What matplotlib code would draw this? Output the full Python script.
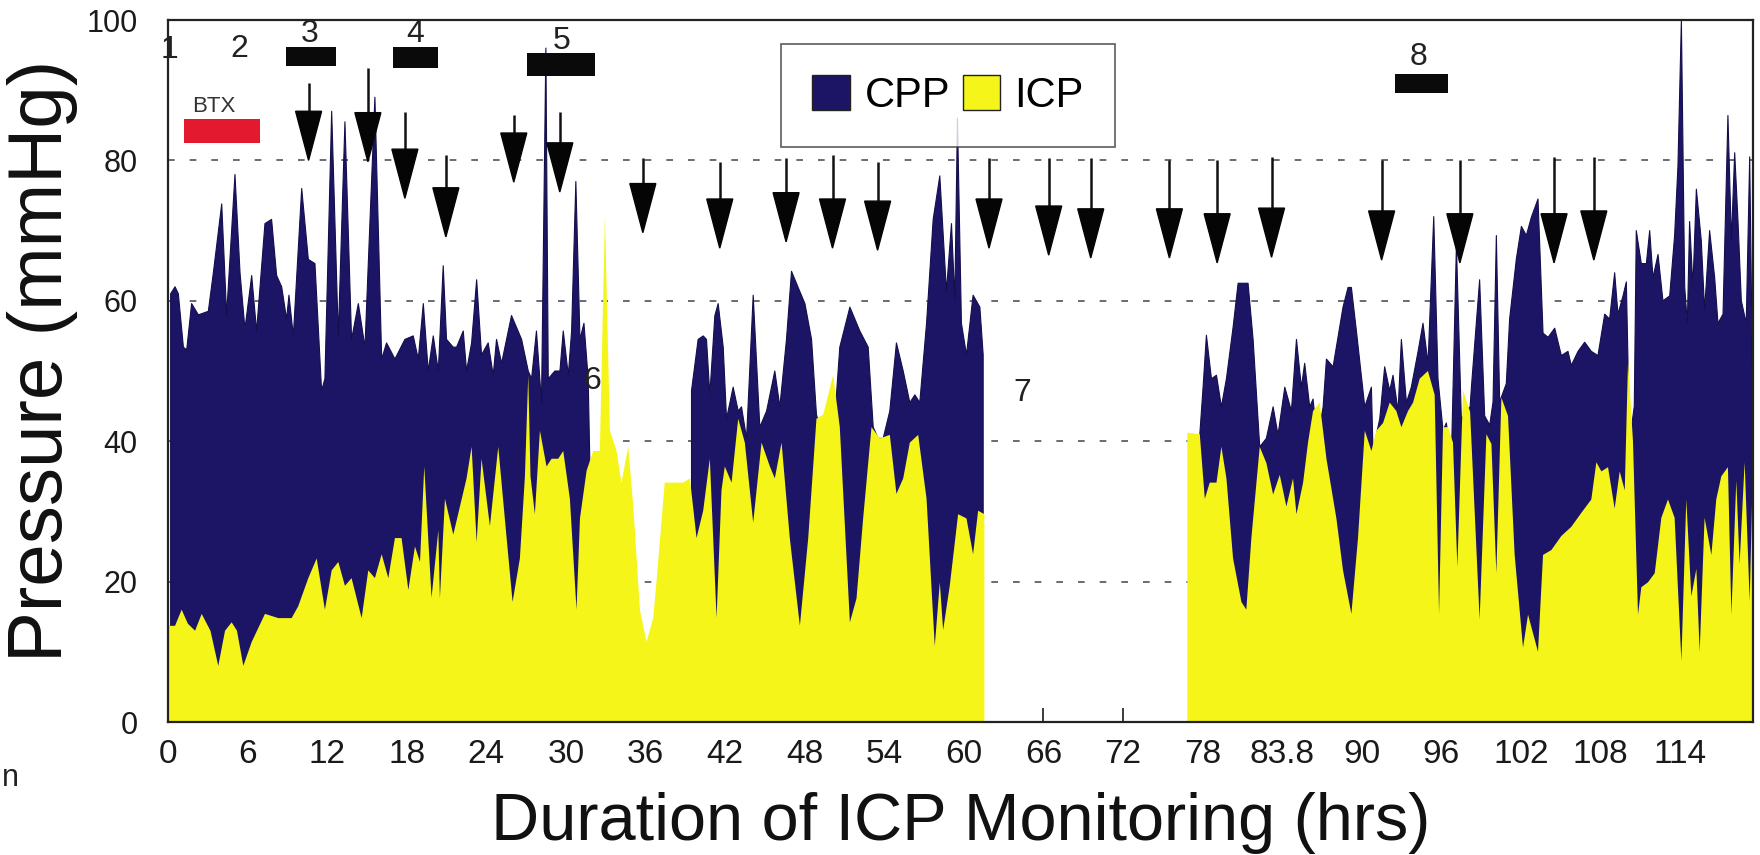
import numpy as np
import matplotlib
matplotlib.use('Agg')
import matplotlib.pyplot as plt
from matplotlib.patches import Patch

plt.rcParams['font.family'] = ['Liberation Sans', 'DejaVu Sans']

nan = np.nan

# ---- CPP trace (hours, mmHg) ----
cpp_t = [0.2, 0.53, 0.78, 1.16, 1.41, 1.78, 2.29, 3.04, 3.42, 4.05, 4.42, 5.05, 5.43, 5.80,
         6.31, 6.68, 7.31, 7.81, 8.19, 8.57, 8.94, 9.12, 9.45, 10.08, 10.58, 11.08, 11.58,
         11.83, 12.34, 12.84, 13.34, 13.84, 14.35, 14.85, 15.60, 16.11, 16.48, 17.11, 17.86,
         18.49, 18.87, 19.25, 19.62, 20.0, 20.38, 20.75, 21.0, 21.5, 21.76, 22.26, 22.51,
         22.89, 23.27, 23.64, 24.14, 24.52, 24.77, 25.15, 25.90, 26.66, 27.16, 27.41, 27.78,
         28.16, 28.49, 28.67, 29.17, 29.55, 29.80, 30.18, 30.43, 30.75, 31.06, 31.36, 31.68,
         31.81, 31.9, 39.4, 39.47, 39.97, 40.35, 40.60, 40.85, 41.23, 41.48, 41.86, 42.11,
         42.61, 42.99, 43.24, 43.62, 44.12, 44.62, 45.13, 45.75, 46.13, 46.63, 47.01, 47.51,
         48.02, 48.52, 48.89, 49.40, 50.15, 50.65, 51.41, 52.16, 52.79, 53.17, 53.54, 53.92,
         54.42, 54.92, 55.43, 55.93, 56.31, 56.68, 57.19, 57.69, 58.19, 58.69, 59.07, 59.32,
         59.52, 59.82, 60.20, 60.70, 61.21, 61.46, 61.6, 77.7, 77.79, 78.04, 78.29, 78.67,
         79.05, 79.42, 79.80, 80.30, 80.68, 81.43, 81.81, 82.31, 82.81, 83.32, 83.69, 84.20,
         84.70, 85.08, 85.45, 85.70, 86.08, 86.33, 86.66, 87.09, 87.34, 87.84, 88.59, 88.97,
         89.22, 89.60, 90.23, 90.73, 90.85, 91.36, 91.73, 92.11, 92.36, 92.74, 92.99, 93.37,
         93.74, 94.25, 94.62, 95.0, 95.43, 95.75, 96.13, 96.38, 96.76, 97.14, 97.51, 97.9,
         98.17, 98.29, 98.89, 99.27, 99.65, 99.90, 100.15, 100.40, 100.90, 101.15, 101.66,
         102.04, 102.41, 102.79, 103.29, 103.67, 104.05, 104.55, 105.05, 105.55, 105.80,
         106.31, 106.81, 107.31, 107.81, 108.32, 108.69, 109.07, 109.32, 109.70, 109.95,
         110.20, 110.55, 110.70, 111.08, 111.46, 111.71, 111.96, 112.34, 112.71, 113.22,
         113.59, 113.84, 114.10, 114.35, 114.55, 114.72, 114.97, 115.23, 115.60, 115.85,
         116.23, 116.61, 116.86, 117.24, 117.61, 117.87, 118.12, 118.37, 118.62, 118.99,
         119.25, 119.5]
cpp_v = [61, 62, 61, 53.4, 53, 59.6, 58, 58.5, 64, 73.8, 58, 78, 64, 56,
         63.6, 55.7, 71, 71.6, 63.6, 62, 57.4, 60.8, 55, 76, 65.9, 65.3, 47.2,
         48.9, 87, 55, 85.5, 54.5, 59.6, 53.4, 89, 51.7, 54, 51.7, 54.5,
         55, 51.7, 59.6, 50, 55, 50, 65, 54.5, 53.4, 53.4, 55.7, 50,
         54, 63, 52.3, 54, 49.4, 54.5, 51.1, 57.9, 54.5, 50, 48.9, 55.7,
         45.5, 96, 48.9, 50, 50, 55.7, 49.4, 55.7, 77, 54.5, 56.8, 48.9,
         36.4, nan, nan, 47.2, 54.5, 55, 54.5, 46.6, 57.9, 59.6, 53.4, 43.2,
         47.7, 44.3, 44.9, 40.4, 60.8, 42, 44.3, 50, 44.9, 54.5, 64.2, 61.9,
         59.6, 54.5, 43.8, 40, 40, 53.4, 59.1, 55.7, 53.4, 42, 40.4, 40.4,
         44.3, 54, 50, 45.5, 46.6, 45.5, 56.8, 71.6, 77.8, 61.4, 71, 60.2,
         86, 56.8, 52.3, 60.8, 59.1, 52.3, nan, nan, 40.9, 47.7, 55.1, 48.9,
         49.4, 44.9, 48.9, 56.2, 62.5, 62.5, 54.5, 39.2, 40.4, 44.9, 40.9, 47.7,
         44.3, 54.5, 47.7, 51.1, 44.9, 46, 40, 44.9, 51.7, 50.6, 59.1, 61.9,
         61.9, 55.7, 44.9, 47.7, 38.6, 43.2, 50.6, 47.2, 49.4, 44.3, 54.5, 45.5,
         47.7, 52.8, 56.8, 51.1, 72, 48.9, 41.5, 42.6, 37.5, 68, 43.2, 44.3,
         44.9, 48.2, 63, 43.6, 42.3, 45.6, 69.3, 45.6, 48.2, 57.4, 66,
         70.6, 69.3, 71.9, 74.5, 55.4, 54.8, 56.1, 52.2, 52.8, 50.8,
         52.8, 54.1, 52.8, 52.2, 58.1, 57.4, 64, 58.1, 60.7, 62.7,
         40, 45, 70, 65.3, 65.3, 70, 63.3, 66.6, 60, 60.7,
         69.3, 79.1, 100, 62, 56.8, 71.3, 62, 75.9, 68.6, 58.7,
         70, 63.3, 56.8, 58.1, 86.4, 68.6, 81.1, 71.3, 60, 56.8,
         80.5, 43.6]

# ---- ICP trace (hours, mmHg) ----
icp_t = [0, 0.15, 0.53, 1.03, 1.5, 2.04, 2.54, 3.2, 3.79, 4.3, 4.80, 5.2, 5.68, 6.31, 7.31,
         8.32, 9.32, 9.82, 10.58, 11.21, 11.83, 12.34, 12.84, 13.34, 13.84, 14.60, 15.10,
         15.60, 16.11, 16.61, 17.11, 17.61, 18.12, 18.62, 19.0, 19.32, 19.87, 20.38, 20.5,
         20.88, 21.51, 22.01, 22.51, 22.89, 23.27, 23.64, 24.27, 24.90, 25.53, 25.98, 26.53,
         26.91, 27.16, 27.33, 27.66, 28.04, 28.54, 28.92, 29.42, 29.80, 30.30, 30.80, 31.06,
         31.56, 32.06, 32.56, 32.94, 33.32, 33.82, 34.19, 34.70, 35.08, 35.58, 36.08, 36.58,
         36.83, 37.45, 38.84, 39.35, 39.85, 40.35, 40.85, 41.36, 41.73, 41.98, 42.49, 42.99,
         43.49, 44.12, 44.75, 45.38, 45.75, 46.26, 46.88, 47.64, 48.27, 48.89, 49.40, 50.15,
         50.65, 51.41, 51.91, 52.41, 53.04, 53.67, 54.42, 54.92, 55.43, 55.93, 56.56, 57.19,
         57.81, 58.19, 58.44, 58.94, 59.57, 60.20, 60.70, 61.08, 61.55, 61.6, 76.8, 76.85,
         77.79, 78.17, 78.54, 79.05, 79.42, 79.80, 80.30, 80.93, 81.30, 81.68, 82.31, 82.81,
         83.32, 83.82, 84.32, 84.82, 85.08, 85.58, 85.95, 86.33, 86.83, 87.34, 88.09, 88.59,
         89.22, 89.72, 90.23, 90.73, 91.11, 91.61, 92.11, 92.61, 92.99, 93.49, 93.87, 94.37,
         94.99, 95.50, 95.83, 96.13, 96.51, 96.88, 97.21, 97.64, 98.17, 98.89, 99.40, 99.78,
         100.15, 100.53, 101.03, 101.53, 102.16, 102.54, 103.29, 103.67, 104.30, 105.05,
         105.80, 106.56, 107.31, 107.69, 108.07, 108.57, 109.07, 109.45, 109.83, 110.08,
         110.45, 110.83, 111.08, 111.58, 112.09, 112.59, 113.09, 113.59, 114.10, 114.47,
         114.85, 115.23, 115.48, 115.85, 116.36, 116.73, 117.11, 117.61, 117.87, 118.24,
         118.49, 118.87, 119.25, 119.5]
icp_v = [14, 13.7, 13.7, 16, 14, 13, 15.4, 13, 8, 13, 14.2, 13, 8, 11.4, 15.4,
         14.8, 14.8, 16.5, 20.5, 23.3, 16, 21.6, 22.8, 19.4, 20.5, 14.8, 21.6,
         20.5, 23.9, 20.5, 26.2, 26.2, 18.8, 25, 22.8, 36.4, 17.7, 27.3, 17.6,
         31.8, 26.7, 30.7, 34.7, 39.2, 25.6, 37.5, 27.9, 39.2, 26.2, 17.1, 23.3,
         35, 49.4, 35, 29.6, 41.5, 36.4, 37.5, 37.5, 38.6, 31.8, 16, 29,
         35.8, 38.6, 38.6, 72.1, 41.5, 38.6, 34.1, 39.2, 30.7, 16, 11.4, 14.8,
         20, 34.1, 34.1, 34.7, 26.2, 30.1, 37.5, 14.8, 33, 36.4, 34.1, 43.2,
         39.8, 28.4, 39.8, 36.4, 34.7, 39.8, 26.2, 13.7, 26.2, 43.2, 43.8, 49.4,
         42, 14.2, 17.6, 29, 42, 40.4, 40.9, 32.5, 34.7, 39.8, 40.9, 31.8,
         10.8, 19.9, 13.1, 19.4, 29.6, 29, 23.9, 30.1, 29.6, nan, nan, 41.2,
         41, 31.8, 34.1, 34.1, 39.2, 34.7, 23.3, 17.1, 16, 26.2, 39.2, 36.9,
         32.4, 35.2, 30.7, 34.7, 29.6, 34.1, 39.8, 44.3, 45.5, 37.5, 29, 21.6,
         15.4, 26.2, 41.5, 38.6, 41.5, 42.6, 45.5, 44.3, 42, 44.3, 45.5, 48.9,
         50, 46.6, 15.4, 42, 42, 39.8, 22.1, 47.2, 44.2, 14.6, 41, 39.6,
         21.2, 46.2, 43.6, 23.8, 10.6, 15.3, 10, 23.8, 24.5, 26.5,
         27.8, 29.8, 31.7, 37, 35.7, 36.3, 30.4, 35.7, 33, 51.5,
         40, 15.3, 19.2, 19.9, 21.2, 29.1, 31.7, 29.1, 8.7, 31.7,
         17.9, 21.8, 10, 29.1, 23.8, 31.7, 35, 36.3, 15.3, 34.4,
         22.5, 37, 17.2, 37]

# ---- axis ticks ----
xtick_pos = [0, 6, 12, 18, 24, 30, 36, 42, 48, 54, 60, 66, 72, 78, 84, 90, 96, 102, 108, 114]
xtick_labels = ['0', '6', '12', '18', '24', '30', '36', '42', '48', '54', '60', '66', '72',
                '78', '83.8', '90', '96', '102', '108', '114']
ytick_pos = [0, 20, 40, 60, 80, 100]

# ---- event arrows ----
arrow_t = [10.6, 15.07, 17.86, 20.95, 26.07, 29.54, 35.8, 41.6, 46.6, 50.1, 53.5, 61.9,
           66.4, 69.57, 75.5, 79.1, 83.2, 91.5, 97.4, 104.5, 107.5]
arrow_top = [91.0, 93.2, 86.9, 80.8, 86.5, 86.9, 80.3, 79.8, 80.3, 80.8, 79.8, 80.3,
             80.3, 80.3, 80.0, 80.0, 80.5, 80.0, 80.0, 80.5, 80.5]
arrow_tip = [80.0, 79.8, 74.6, 69.1, 76.9, 75.5, 69.7, 67.5, 68.4, 67.5, 67.2, 67.5,
             66.5, 66.1, 66.1, 65.4, 66.2, 65.8, 65.4, 65.4, 65.8]

# ---- period bars (numbered) ----
bar_t0 = [8.9, 17.0, 27.1, 92.5]
bar_t1 = [12.7, 20.35, 32.2, 96.5]
bar_v0 = [93.4, 93.1, 92.0, 89.6]
bar_v1 = [96.1, 96.1, 95.3, 92.3]

btx_t = [1.24, 6.9]
btx_v = [82.5, 85.9]

label_text = ['1', '2', '3', '4', '5', '6', '7', '8']
label_t = [0.08, 5.35, 10.7, 18.6, 29.7, 31.95, 64.4, 94.3]
label_v = [95.7, 95.9, 98.0, 98.0, 97.0, 48.6, 46.9, 94.8]

navy = '#1c1565'
yellow = '#f5f51a'
ink = '#1a1a1a'

fig = plt.figure(figsize=(17.6, 8.55), dpi=100)
ax = fig.add_axes([168 / 1760, 133 / 855, 1585 / 1760, 702 / 855])

ax.fill_between(cpp_t, 0, cpp_v, facecolor=navy, edgecolor='#140f4c', linewidth=0.8, zorder=2)
ax.fill_between(icp_t, 0, icp_v, facecolor=yellow, edgecolor='none', linewidth=0, zorder=3)

ax.set_xlim(0, 119.5)
ax.set_ylim(0, 100)
ax.set_yticks(ytick_pos)
ax.set_xticks(xtick_pos)
ax.set_xticklabels(xtick_labels)
ax.yaxis.grid(True, linestyle=(0, (4, 9)), color='#4a5560', linewidth=1.2)
ax.set_axisbelow(True)

ax.tick_params(axis='x', direction='in', length=10, width=1.2, pad=12, labelsize=24,
               labelcolor=ink, color=ink)
ax.tick_params(axis='y', length=0, pad=22, labelsize=22, labelcolor=ink)

for sp in ax.spines.values():
    sp.set_color('#222222')
    sp.set_linewidth(1.6)
    sp.set_zorder(6)

# arrows
head_len = 7.0
head_hw = 0.98
for t, top, tip in zip(arrow_t, arrow_top, arrow_tip):
    ax.plot([t, t], [top, tip + head_len], color='#111111', lw=1.8, zorder=7,
            solid_capstyle='butt')
    ax.fill([t - head_hw, t + head_hw, t], [tip + head_len, tip + head_len, tip],
            color='#050505', zorder=7)

# period bars
ax.bar(bar_t0, np.subtract(bar_v1, bar_v0), width=np.subtract(bar_t1, bar_t0),
       bottom=bar_v0, align='edge', color='#0a0a0a', zorder=7)
ax.bar([btx_t[0]], [btx_v[1] - btx_v[0]], width=[btx_t[1] - btx_t[0]], bottom=[btx_v[0]],
       align='edge', color='#e31a2f', zorder=7)
ax.text(sum(btx_t) / 2 - 0.6, btx_v[1] + 0.3, 'BTX', fontsize=16, color='#333333',
        ha='center', va='bottom', zorder=8)

for s, t, v in zip(label_text, label_t, label_v):
    ax.text(t, v, s, fontsize=23, color='#222222', ha='center', va='center', zorder=8)

leg = ax.legend(handles=[Patch(facecolor=navy, edgecolor='#222222', label='CPP'),
                         Patch(facecolor=yellow, edgecolor='#222222', label='ICP')],
                loc='upper left', bbox_to_anchor=(0.3868, 0.966), ncol=2, fontsize=30,
                frameon=True, fancybox=False, edgecolor='#333333', handlelength=0.9,
                handleheight=0.9, handletextpad=0.35, columnspacing=0.3, borderpad=0.75,
                borderaxespad=0)
leg.get_frame().set_linewidth(1.2)
leg.set_zorder(9)

ax.set_xlabel('Duration of ICP Monitoring (hrs)', fontsize=48, labelpad=16, color='#111111')
ax.set_ylabel('Pressure (mmHg)', fontsize=55, color='#111111')
ax.yaxis.set_label_coords(-0.057, 0.515)

fig.text(0.001, 69 / 855, 'n', fontsize=22, color='#222222', ha='left', va='baseline')

fig.savefig('out.png', dpi=100)
